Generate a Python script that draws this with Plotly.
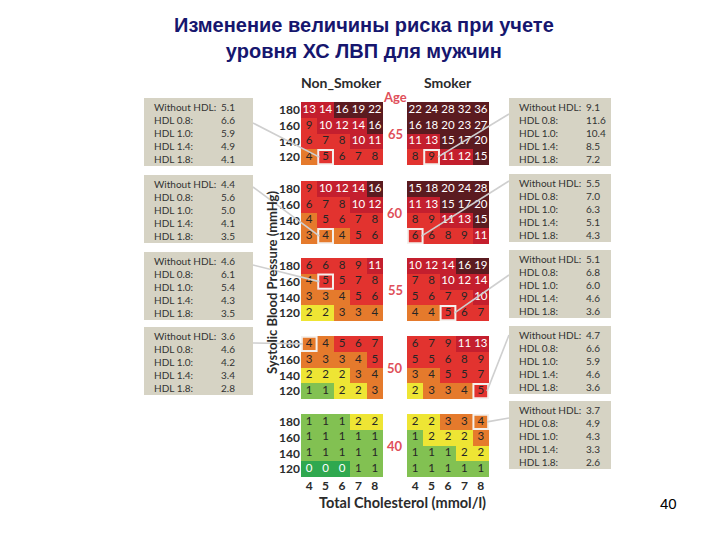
import plotly.graph_objects as go

# ---------------- data ----------------
AGES = [65, 60, 55, 50, 40]
CHOL = [4, 5, 6, 7, 8]
SBP_ROWS = [180, 160, 140, 120]          # rows as printed, top to bottom

ns_65 = [[13, 14, 16, 19, 22], [9, 10, 12, 14, 16], [6, 7, 8, 10, 11], [4, 5, 6, 7, 8]]
s_65 = [[22, 24, 28, 32, 36], [16, 18, 20, 23, 27], [11, 13, 15, 17, 20], [8, 9, 11, 12, 15]]
ns_60 = [[9, 10, 12, 14, 16], [6, 7, 8, 10, 12], [4, 5, 6, 7, 8], [3, 4, 4, 5, 6]]
s_60 = [[15, 18, 20, 24, 28], [11, 13, 15, 17, 20], [8, 9, 11, 13, 15], [6, 6, 8, 9, 11]]
ns_55 = [[6, 6, 8, 9, 11], [4, 5, 5, 7, 8], [3, 3, 4, 5, 6], [2, 2, 3, 3, 4]]
s_55 = [[10, 12, 14, 16, 19], [7, 8, 10, 12, 14], [5, 6, 7, 9, 10], [4, 4, 5, 6, 7]]
ns_50 = [[4, 4, 5, 6, 7], [3, 3, 3, 4, 5], [2, 2, 2, 3, 4], [1, 1, 2, 2, 3]]
s_50 = [[6, 7, 9, 11, 13], [5, 5, 6, 8, 9], [3, 4, 5, 5, 7], [2, 3, 3, 4, 5]]
ns_40 = [[1, 1, 1, 2, 2], [1, 1, 1, 1, 1], [1, 1, 1, 1, 1], [0, 0, 0, 1, 1]]
s_40 = [[2, 2, 3, 3, 4], [1, 2, 2, 2, 3], [1, 1, 1, 2, 2], [1, 1, 1, 1, 1]]

HDL_LABELS = ["Without HDL:", "HDL 0.8:", "HDL 1.0:", "HDL 1.4:", "HDL 1.8:"]
hdl_ns_65 = ["5.1", "6.6", "5.9", "4.9", "4.1"]
hdl_ns_60 = ["4.4", "5.6", "5.0", "4.1", "3.5"]
hdl_ns_55 = ["4.6", "6.1", "5.4", "4.3", "3.5"]
hdl_ns_50 = ["3.6", "4.6", "4.2", "3.4", "2.8"]
hdl_s_65 = ["9.1", "11.6", "10.4", "8.5", "7.2"]
hdl_s_60 = ["5.5", "7.0", "6.3", "5.1", "4.3"]
hdl_s_55 = ["5.1", "6.8", "6.0", "4.6", "3.6"]
hdl_s_50 = ["4.7", "6.6", "5.9", "4.6", "3.6"]
hdl_s_40 = ["3.7", "4.9", "4.3", "3.3", "2.6"]

# highlighted cell (cholesterol, SBP) linked to each HDL box
hl_ns = {65: (5, 120), 60: (5, 120), 55: (5, 160), 50: (4, 180)}
hl_s = {65: (5, 120), 60: (4, 120), 55: (6, 120), 50: (8, 120), 40: (8, 180)}

TITLE = "Изменение величины риска при учете<br>уровня ХС ЛВП для мужчин"

# ---------------- styling / layout ----------------
W, H = 720, 540
OFF = 8   # page body margin
def px(x): return (x - OFF) / W
def py(y): return 1 - (y - OFF) / H

COLORS = ["#2fa84f", "#82c152", "#eee534", "#e57a2c", "#e2332f", "#c41f2e", "#5b1b20"]
def level(v):
    if v < 1: return 0
    if v == 1: return 1
    if v == 2: return 2
    if v <= 4: return 3
    if v <= 9: return 4
    if v <= 14: return 5
    return 6
def txtcol(v):
    lv = level(v)
    return "white" if (lv == 0 or lv >= 5) else "#262626"

scale = []
for i, c in enumerate(COLORS):
    scale += [[i / 7, c], [(i + 1) / 7, c]]

NS_X = (301, 383)
S_X = (407, 489)
GRID_TOP = [102, 181, 258, 336, 414]
GRID_H = 63

LBOX_X = (144, 253)
LBOX_TOP = [98, 175, 252, 327]
RBOX_X = (509, 611)
RBOX_TOP = [98, 174, 250, 326, 401]
BOX_H = 68
LSTART = [123, 187, 265, 343]
RSTART = [114, 181, 275, 335, 418]

FONT = "Lato"
DARK = "#2b2b2b"
AGE_RED = "#e0505a"

grids_ns = {65: ns_65, 60: ns_60, 55: ns_55, 50: ns_50, 40: ns_40}
grids_s = {65: s_65, 60: s_60, 55: s_55, 50: s_50, 40: s_40}
boxes_ns = [hdl_ns_65, hdl_ns_60, hdl_ns_55, hdl_ns_50]
boxes_s = [hdl_s_65, hdl_s_60, hdl_s_55, hdl_s_50, hdl_s_40]

fig = go.Figure()
layout = dict(width=W, height=H, margin=dict(l=0, r=0, t=0, b=0),
              paper_bgcolor="white", plot_bgcolor="white", showlegend=False)
shapes, annotations = [], []

def note(x, y, text, font, **kw):
    d = dict(x=px(x), y=py(y), xref="paper", yref="paper", text=text,
             showarrow=False, xanchor="center", yanchor="middle", font=font)
    d.update(kw)
    annotations.append(d)

def cell_px(xdom, top, chol, sbp):
    cw = (xdom[1] - xdom[0]) / 5
    ch = GRID_H / 4
    ci = CHOL.index(chol)
    ri = SBP_ROWS.index(sbp)
    return (xdom[0] + ci * cw, xdom[0] + (ci + 1) * cw,
            top + ri * ch, top + (ri + 1) * ch)

k = 0
for i, age in enumerate(AGES):
    for j, (grid, xdom) in enumerate([(grids_ns[age], NS_X), (grids_s[age], S_X)]):
        k += 1
        xa = "x" if k == 1 else f"x{k}"
        ya = "y" if k == 1 else f"y{k}"
        rows_bottom_up = grid[::-1]
        sbp_up = SBP_ROWS[::-1]
        z = [[level(v) for v in row] for row in rows_bottom_up]
        fig.add_trace(go.Heatmap(
            z=z, x=CHOL, y=sbp_up, zmin=-0.5, zmax=6.5, colorscale=scale,
            showscale=False, hoverinfo="skip", xaxis=xa, yaxis=ya))
        tx, ty, tt, tc = [], [], [], []
        for r, sbp in enumerate(sbp_up):
            for c, chol in enumerate(CHOL):
                v = rows_bottom_up[r][c]
                tx.append(chol); ty.append(sbp); tt.append(str(v)); tc.append(txtcol(v))
        fig.add_trace(go.Scatter(
            x=tx, y=ty, text=tt, mode="text", hoverinfo="skip",
            textfont=dict(family=FONT, size=11.5, color=tc),
            xaxis=xa, yaxis=ya))
        top = GRID_TOP[i]
        axx = dict(domain=[px(xdom[0]), px(xdom[1])], range=[3.5, 8.5],
                   anchor=ya, showgrid=False, zeroline=False, showline=False,
                   tickvals=CHOL, ticks="", showticklabels=(age == 40),
                   tickfont=dict(family=FONT, size=12, color=DARK, weight="bold"),
                   fixedrange=True)
        axy = dict(domain=[py(top + GRID_H), py(top)], range=[110, 190],
                   anchor=xa, showgrid=False, zeroline=False, showline=False,
                   tickvals=SBP_ROWS, ticks="", showticklabels=(j == 0),
                   tickfont=dict(family=FONT, size=12, color=DARK, weight="bold"),
                   fixedrange=True)
        layout["xaxis" if k == 1 else f"xaxis{k}"] = axx
        layout["yaxis" if k == 1 else f"yaxis{k}"] = axy

        # highlight + connector
        hl = (hl_ns if j == 0 else hl_s).get(age)
        if hl:
            chol, sbp = hl
            shapes.append(dict(type="rect", xref=xa, yref=ya,
                               x0=chol - 0.45, x1=chol + 0.45, y0=sbp - 9, y1=sbp + 9,
                               line=dict(color="#f4f0ec", width=2), layer="above"))
            x0c, x1c, y0c, y1c = cell_px(xdom, top, chol, sbp)
            yc = (y0c + y1c) / 2
            if j == 0:
                sx, sy = LBOX_X[1], LSTART[i]
                ex = x0c + 2
            else:
                sx, sy = RBOX_X[0], RSTART[i]
                ex = x1c - 2
            shapes.append(dict(type="line", xref="paper", yref="paper",
                               x0=px(sx), y0=py(sy), x1=px(ex), y1=py(yc),
                               line=dict(color="#cfcfcf", width=1.6), layer="above"))
    # age label
    note((NS_X[1] + S_X[0]) / 2, GRID_TOP[i] + GRID_H / 2, str(age),
         dict(family=FONT, size=13, color=AGE_RED, weight="bold"))

# HDL boxes
BOX_FONT = dict(family=FONT, size=10, color="#333333")
def add_box(xr, top, vals, val_off):
    shapes.append(dict(type="rect", xref="paper", yref="paper",
                       x0=px(xr[0]), x1=px(xr[1]), y0=py(top + BOX_H), y1=py(top),
                       fillcolor="#d6d3c4", line=dict(width=0), layer="below"))
    for n, (lab, v) in enumerate(zip(HDL_LABELS, vals)):
        yy = top + 9 + n * 13
        note(xr[0] + 8, yy, lab, BOX_FONT, xanchor="left")
        note(xr[0] + val_off, yy, v, BOX_FONT, xanchor="left")

for i, vals in enumerate(boxes_ns):
    add_box(LBOX_X, LBOX_TOP[i], vals, 75)
for i, vals in enumerate(boxes_s):
    add_box(RBOX_X, RBOX_TOP[i], vals, 75)

# texts
note(364, 38, TITLE, dict(family="Liberation Sans", size=20, color="#16166e", weight="bold"),
     align="center")
note((NS_X[0] + NS_X[1]) / 2 - 1, 83, "Non_Smoker",
     dict(family=FONT, size=14, color=DARK, weight="bold"))
note((S_X[0] + S_X[1]) / 2, 83, "Smoker",
     dict(family=FONT, size=14, color=DARK, weight="bold"))
note(395, 97, "Age", dict(family=FONT, size=13, color=AGE_RED, weight="bold"))
note(272, 283, "Systolic Blood Pressure (mmHg)",
     dict(family=FONT, size=13, color=DARK, weight="bold"), textangle=-90)
note(402, 502, "Total Cholesterol (mmol/l)",
     dict(family=FONT, size=14.5, color=DARK, weight="bold"))
note(668, 503, "40", dict(family="Liberation Sans", size=15, color="black"))

layout["shapes"] = shapes
layout["annotations"] = annotations
fig.update_layout(**layout)
fig.write_html("out.html")
